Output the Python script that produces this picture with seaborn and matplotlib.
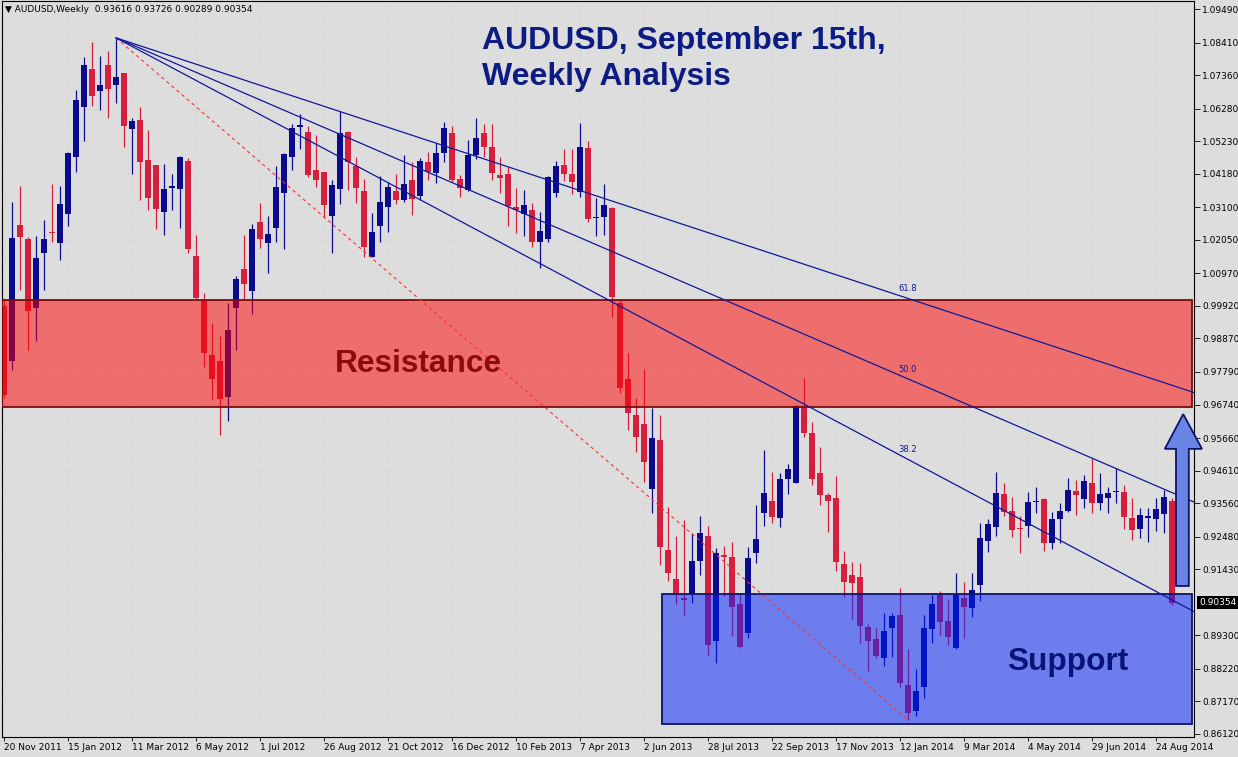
import matplotlib
matplotlib.use("Agg")
import matplotlib.pyplot as plt
import matplotlib.transforms as mtransforms
from matplotlib.patches import Rectangle, Polygon
import numpy as np
import seaborn as sns

# weekly AUDUSD candles, 20 Nov 2011 .. 7 Sep 2014
opens = [
    0.9992, 0.9814, 1.0253, 1.0208, 0.9985, 1.0162, 1.0230, 1.0195, 1.0288, 1.0472,
    1.0633, 1.0756, 1.0685, 1.0769, 1.0704, 1.0743, 1.0562, 1.0591, 1.0462, 1.0446,
    1.0295, 1.0372, 1.0369, 1.0459, 1.0153, 1.0011, 0.9834, 0.9814, 0.9698, 0.9985,
    1.0111, 1.0040, 1.0262, 1.0195, 1.0243, 1.0356, 1.0472, 1.0569, 1.0552, 1.0430,
    1.0424, 1.0282, 1.0369, 1.0552, 1.0443, 1.0362, 1.0150, 1.0250, 1.0311, 1.0362,
    1.0333, 1.0398, 1.0346, 1.0456, 1.0420, 1.0485, 1.0549, 1.0401, 1.0366, 1.0478,
    1.0549, 1.0504, 1.0414, 1.0417, 1.0311, 1.0288, 1.0301, 1.0198, 1.0208, 1.0356,
    1.0446, 1.0417, 1.0359, 1.0501, 1.0275, 1.0279, 1.0308, 1.0001, 0.9756, 0.9640,
    0.9611, 0.9402, 0.9560, 0.9205, 0.9112, 0.9050, 0.9063, 0.9170, 0.9250, 0.8912,
    0.9189, 0.9182, 0.9031, 0.8937, 0.9195, 0.9324, 0.9363, 0.9308, 0.9434, 0.9421,
    0.9666, 0.9582, 0.9453, 0.9382, 0.9373, 0.9160, 0.9124, 0.9118, 0.8957, 0.8918,
    0.8857, 0.8953, 0.8995, 0.8770, 0.8686, 0.8763, 0.8950, 0.9060, 0.8976, 0.8889,
    0.9050, 0.9018, 0.9092, 0.9234, 0.9279, 0.9385, 0.9331, 0.9276, 0.9282, 0.9360,
    0.9369, 0.9228, 0.9305, 0.9331, 0.9395, 0.9369, 0.9421, 0.9357, 0.9373, 0.9392,
    0.9392, 0.9308, 0.9273, 0.9308, 0.9305, 0.9321, 0.93616,
]
highs = [
    1.0011, 1.0327, 1.0378, 1.0214, 1.0217, 1.0269, 1.0385, 1.0378, 1.0488, 1.0688,
    1.0794, 1.0843, 1.0798, 1.0814, 1.0856, 1.0743, 1.0598, 1.0633, 1.0559, 1.0446,
    1.0449, 1.0417, 1.0475, 1.0469, 1.0221, 1.0034, 0.9937, 0.9895, 1.0001, 1.0088,
    1.0221, 1.0256, 1.0324, 1.0282, 1.0443, 1.0485, 1.0578, 1.0611, 1.0572, 1.0543,
    1.0424, 1.0398, 1.0620, 1.0556, 1.0472, 1.0401, 1.0291, 1.0411, 1.0391, 1.0417,
    1.0478, 1.0456, 1.0469, 1.0488, 1.0517, 1.0585, 1.0572, 1.0414, 1.0527, 1.0598,
    1.0578, 1.0578, 1.0472, 1.0440, 1.0372, 1.0366, 1.0324, 1.0295, 1.0411, 1.0459,
    1.0498, 1.0498, 1.0581, 1.0523, 1.0340, 1.0385, 1.0311, 1.0011, 0.9840, 0.9695,
    0.9789, 0.9663, 0.9640, 0.9344, 0.9250, 0.9302, 0.9260, 0.9315, 0.9282, 0.9212,
    0.9218, 0.9231, 0.9066, 0.9215, 0.9350, 0.9527, 0.9456, 0.9453, 0.9482, 0.9673,
    0.9759, 0.9618, 0.9537, 0.9389, 0.9444, 0.9202, 0.9166, 0.9163, 0.8966, 0.8953,
    0.9002, 0.9002, 0.9083, 0.8886, 0.8821, 0.8995, 0.9060, 0.9073, 0.9047, 0.9131,
    0.9102, 0.9131, 0.9292, 0.9305, 0.9456, 0.9421, 0.9376, 0.9315, 0.9392, 0.9408,
    0.9373, 0.9327, 0.9357, 0.9437, 0.9431, 0.9447, 0.9502, 0.9453, 0.9408, 0.9469,
    0.9414, 0.9373, 0.9340, 0.9340, 0.9373, 0.9398, 0.93726,
]
lows = [
    0.9695, 0.9785, 1.0043, 0.9850, 0.9879, 1.0043, 1.0198, 1.0140, 1.0250, 1.0424,
    1.0523, 1.0636, 1.0623, 1.0598, 1.0646, 1.0504, 1.0417, 1.0333, 1.0301, 1.0240,
    1.0221, 1.0301, 1.0243, 1.0162, 1.0014, 0.9795, 0.9692, 0.9576, 0.9621, 0.9850,
    1.0011, 0.9966, 1.0179, 1.0098, 1.0198, 1.0175, 1.0430, 1.0498, 1.0407, 1.0375,
    1.0275, 1.0162, 1.0320, 1.0366, 1.0324, 1.0150, 1.0150, 1.0198, 1.0230, 1.0320,
    1.0327, 1.0285, 1.0333, 1.0398, 1.0388, 1.0456, 1.0391, 1.0343, 1.0362, 1.0465,
    1.0472, 1.0398, 1.0356, 1.0250, 1.0227, 1.0217, 1.0182, 1.0114, 1.0198, 1.0343,
    1.0395, 1.0353, 1.0343, 1.0262, 1.0217, 1.0221, 0.9956, 0.9711, 0.9592, 0.9521,
    0.9424, 0.9324, 0.9157, 0.9105, 0.9031, 0.8995, 0.9034, 0.9124, 0.8867, 0.8841,
    0.9057, 0.8928, 0.8889, 0.8921, 0.9163, 0.9282, 0.9292, 0.9279, 0.9385, 0.9421,
    0.9569, 0.9414, 0.9350, 0.9263, 0.9137, 0.9054, 0.8983, 0.8905, 0.8815, 0.8857,
    0.8831, 0.8860, 0.8763, 0.8657, 0.8670, 0.8728, 0.8905, 0.8931, 0.8899, 0.8886,
    0.8921, 0.8989, 0.9041, 0.9199, 0.9250, 0.9315, 0.9247, 0.9195, 0.9247, 0.9324,
    0.9202, 0.9208, 0.9228, 0.9327, 0.9318, 0.9340, 0.9324, 0.9334, 0.9324, 0.9357,
    0.9273, 0.9237, 0.9244, 0.9231, 0.9266, 0.9260, 0.90289,
]
closes = [
    0.9705, 1.0211, 1.0214, 0.9975, 1.0146, 1.0208, 1.0227, 1.0320, 1.0485, 1.0656,
    1.0769, 1.0669, 1.0704, 1.0691, 1.0730, 1.0572, 1.0588, 1.0456, 1.0340, 1.0304,
    1.0369, 1.0378, 1.0472, 1.0175, 1.0017, 0.9840, 0.9756, 0.9692, 0.9914, 1.0079,
    1.0063, 1.0240, 1.0208, 1.0224, 1.0375, 1.0482, 1.0565, 1.0575, 1.0414, 1.0398,
    1.0317, 1.0382, 1.0549, 1.0456, 1.0372, 1.0182, 1.0230, 1.0327, 1.0375, 1.0333,
    1.0385, 1.0337, 1.0459, 1.0424, 1.0485, 1.0565, 1.0398, 1.0372, 1.0478, 1.0533,
    1.0504, 1.0420, 1.0404, 1.0314, 1.0301, 1.0317, 1.0198, 1.0233, 1.0407, 1.0443,
    1.0417, 1.0391, 1.0504, 1.0272, 1.0279, 1.0317, 1.0021, 0.9727, 0.9647, 0.9569,
    0.9489, 0.9566, 0.9215, 0.9131, 0.9060, 0.9044, 0.9170, 0.9260, 0.8899, 0.9195,
    0.9182, 0.9021, 0.8892, 0.9179, 0.9240, 0.9389, 0.9311, 0.9434, 0.9466, 0.9669,
    0.9582, 0.9434, 0.9382, 0.9363, 0.9166, 0.9102, 0.9099, 0.8960, 0.8912, 0.8863,
    0.8944, 0.8992, 0.8776, 0.8680, 0.8750, 0.8953, 0.9031, 0.8973, 0.8925, 0.9060,
    0.9021, 0.9076, 0.9244, 0.9289, 0.9389, 0.9327, 0.9270, 0.9273, 0.9360, 0.9363,
    0.9228, 0.9305, 0.9331, 0.9398, 0.9382, 0.9427, 0.9357, 0.9385, 0.9389, 0.9395,
    0.9311, 0.9270, 0.9318, 0.9315, 0.9337, 0.9376, 0.90354,
]

# one label every 8 weeks
date_labels = [
    "20 Nov 2011", "15 Jan 2012", "11 Mar 2012", "6 May 2012", "1 Jul 2012",
    "26 Aug 2012", "21 Oct 2012", "16 Dec 2012", "10 Feb 2013", "7 Apr 2013",
    "2 Jun 2013", "28 Jul 2013", "22 Sep 2013", "17 Nov 2013", "12 Jan 2014",
    "9 Mar 2014", "4 May 2014", "29 Jun 2014", "24 Aug 2014",
]
price_ticks = [
    0.86120, 0.87170, 0.88220, 0.89300, 0.91430, 0.92480, 0.93560, 0.94610,
    0.95660, 0.96740, 0.97790, 0.98870, 0.99920, 1.00970, 1.02050, 1.03100,
    1.04180, 1.05230, 1.06280, 1.07360, 1.08410, 1.09490,
]
fib_levels = [0.382, 0.5, 0.618]
resistance_zone = (0.9665, 1.0011)
support_zone = (0.8644, 0.9062)
support_start = 82.3

title = "AUDUSD, September 15th,\nWeekly Analysis"

BG = "#dddddd"
BULL = "#0a0a8c"
BEAR = "#d41f3f"
NAVY = "#10189a"


def draw_candles(ax, o, h, l, c):
    x = np.arange(len(o))
    colors = np.where(c >= o, BULL, BEAR)
    ax.vlines(x, l, h, colors=colors, linewidth=0.9, zorder=2)
    body_lo = np.minimum(o, c)
    body_h = np.maximum(np.abs(c - o), 0.00025)
    ax.bar(x, body_h, bottom=body_lo, width=0.7, color=colors, linewidth=0, zorder=2)


def draw_zones(ax):
    lo, hi = resistance_zone
    ax.add_patch(Rectangle((-0.25, lo), 148.75, hi - lo, facecolor=(1, 0, 0, 0.5),
                           edgecolor="#7a0c0c", linewidth=1.3, zorder=3))
    lo, hi = support_zone
    ax.add_patch(Rectangle((support_start, lo), 148.5 - support_start, hi - lo,
                           facecolor=(0, 0.12, 1, 0.5), edgecolor="#0c1468",
                           linewidth=1.3, zorder=3))


def draw_fan(ax, h, l):
    i_hi = int(np.argmax(h))
    i_lo = int(np.argmin(l))
    hi, lo = h[i_hi], l[i_lo]
    ax.plot([i_hi, i_lo], [hi, lo], color="#ff3030", linewidth=0.8,
            linestyle=(0, (3, 3)), zorder=4)
    x_end = 150
    for r in fib_levels:
        lvl = lo + r * (hi - lo)
        slope = (lvl - hi) / (i_lo - i_hi)
        ax.plot([i_hi, x_end], [hi, hi + slope * (x_end - i_hi)], color=NAVY,
                linewidth=0.9, zorder=4)
        ax.annotate(f"{r * 100:.1f}", (i_lo, lvl), xytext=(0, 7),
                    textcoords="offset points", ha="center", va="center",
                    fontsize=6, color=NAVY, zorder=5)


def run():
    sns.set_theme(style="ticks", rc={"axes.facecolor": BG, "figure.facecolor": BG})
    plt.rcParams["font.family"] = ["DejaVu Sans"]

    o, h, l, c = (np.array(v) for v in (opens, highs, lows, closes))

    fig = plt.figure(figsize=(12.38, 7.57), dpi=100)
    ax = fig.add_axes([2 / 1238, 20 / 757, 1192 / 1238, 736 / 757])
    ax.set_xlim(-0.25, 148.75)
    ax.set_ylim(0.86021, 1.09748)

    ax.grid(True, color="#cfcfcf", linestyle=":", linewidth=0.6, zorder=0)
    ax.set_axisbelow(True)

    draw_candles(ax, o, h, l, c)
    draw_zones(ax)
    draw_fan(ax, h, l)

    # arrow pointing up from the support box
    arrow = Polygon([(146.5, 0.9089), (148.1, 0.9089), (148.1, 0.9531),
                     (149.75, 0.9531), (147.4, 0.9643), (145.1, 0.9531),
                     (146.5, 0.9531)], closed=True, facecolor="#6a84e6",
                    edgecolor="#0c1468", linewidth=1.3, zorder=6, clip_on=False)
    ax.add_patch(arrow)

    ax.text(41.4, 0.9779, "Resistance", fontsize=22.8, fontweight="bold",
            family=["Liberation Sans"], color="#8a0c0c", va="baseline", zorder=5)
    ax.text(125.4, 0.8818, "Support", fontsize=22.8, fontweight="bold",
            family=["Liberation Sans"], color="#0a1478", va="baseline", zorder=5)

    fig.text(482 / 1238, 1 - 26 / 757, title, fontsize=23, fontweight="bold",
             family=["Liberation Sans"], color="#0c1c82", va="top", ha="left",
             linespacing=1.24)

    header = "\u25bc AUDUSD,Weekly  " + " ".join(f"{v:.5f}" for v in (o[-1], h[-1], l[-1], c[-1]))
    fig.text(5 / 1238, 1 - 10 / 757, header, fontsize=6.5, va="center", ha="left",
             color="black")

    ax.yaxis.tick_right()
    ax.set_yticks(price_ticks)
    ax.set_yticklabels([f"{v:.5f}" for v in price_ticks])
    ax.set_xticks(range(0, 8 * len(date_labels), 8))
    ax.set_xticklabels(date_labels, ha="left")
    ax.tick_params(axis="y", direction="out", length=4, width=0.6, pad=2,
                   labelsize=6.5, colors="black")
    ax.tick_params(axis="x", direction="out", length=3, width=0.6, pad=1,
                   labelsize=6.5, colors="black")
    for s in ax.spines.values():
        s.set_color("black")
        s.set_linewidth(0.8)

    trans = mtransforms.blended_transform_factory(ax.transAxes, ax.transData)
    ax.text(1.0042, c[-1], f"{c[-1]:.5f}", transform=trans, ha="left", va="center",
            fontsize=6.5, color="white", zorder=7, clip_on=False,
            bbox=dict(facecolor="black", edgecolor="none", pad=1.3))

    fig.savefig("out.png", dpi=100, facecolor=BG)
    plt.close(fig)


if __name__ == "__main__":
    run()
